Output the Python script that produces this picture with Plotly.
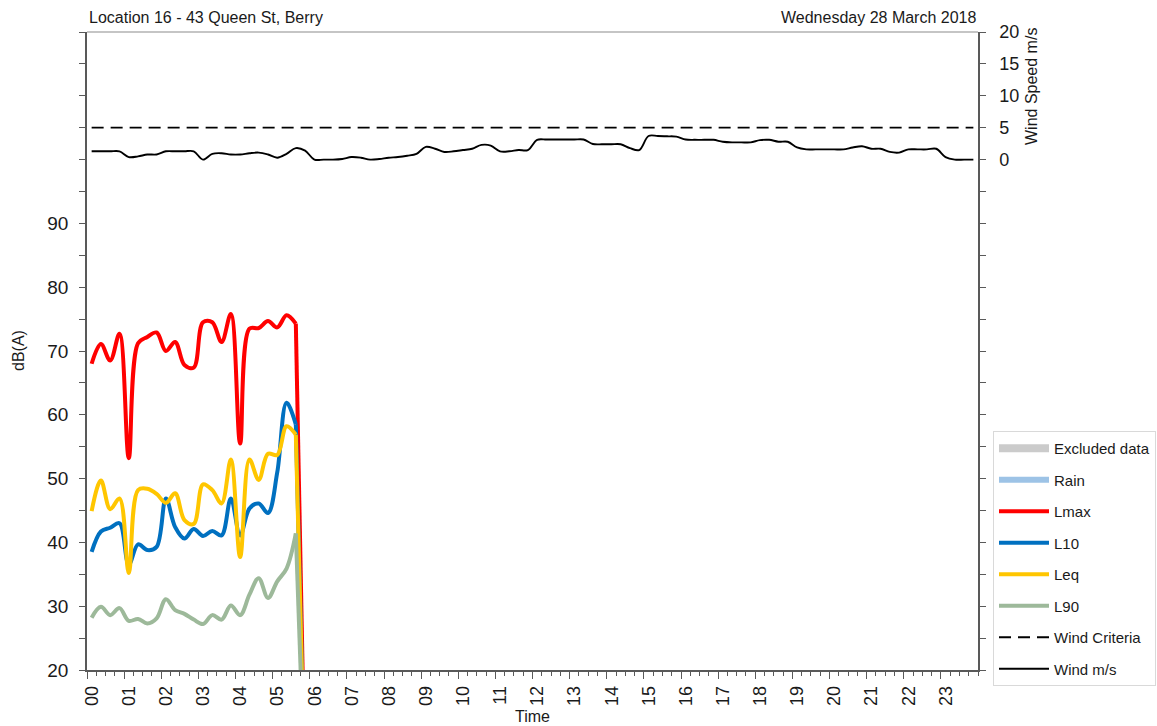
import plotly.graph_objects as go

# ---------------- data ----------------
# 15-minute slots (hours from midnight, slot centres)
noise_slots = [i / 4 for i in range(24)]
wind_slots = [i / 4 for i in range(96)]
hour_labels = [f"{h:02d}" for h in range(24)]

lmax = [68.0, 71.1, 68.5, 72.7, 53.2, 71.2, 72.2, 72.9, 70.0, 71.4, 67.8, 67.4,
        74.5, 74.5, 71.4, 75.8, 55.5, 73.5, 73.6, 74.7, 73.7, 75.6, 74.3, 0]
l10 = [38.5, 41.7, 42.3, 43.0, 36.5, 39.7, 38.8, 39.3, 46.9, 42.4, 40.6, 42.1,
       41.0, 41.8, 41.1, 46.9, 41.1, 45.3, 46.1, 44.6, 51.0, 61.9, 58.5, 0]
leq = [44.9, 49.7, 45.2, 46.9, 35.2, 48.2, 48.4, 47.6, 46.2, 47.7, 43.5, 42.9,
       49.1, 48.2, 46.1, 53.0, 37.7, 53.0, 49.8, 53.9, 53.7, 58.2, 56.9, 0]
l90 = [28.2, 29.9, 28.6, 29.7, 27.7, 28.0, 27.3, 28.1, 31.1, 29.4, 28.8, 27.9,
       27.2, 28.6, 27.9, 30.1, 28.6, 31.8, 34.4, 31.3, 33.9, 35.9, 41.4, 0]

wind = [1.3, 1.3, 1.3, 1.3, 0.4, 0.5, 0.8, 0.8, 1.3, 1.3, 1.3, 1.3,
        0.0, 0.9, 1.0, 0.8, 0.8, 1.0, 1.1, 0.8, 0.3, 0.9, 1.8, 1.4,
        0.0, 0.0, 0.0, 0.1, 0.4, 0.3, 0.0, 0.1, 0.3, 0.4, 0.6, 0.9,
        2.0, 1.7, 1.2, 1.3, 1.5, 1.7, 2.3, 2.2, 1.3, 1.3, 1.5, 1.5,
        3.1, 3.15, 3.15, 3.15, 3.15, 3.15, 2.45, 2.4, 2.4, 2.4, 1.8, 1.5,
        3.7, 3.7, 3.65, 3.6, 3.15, 3.1, 3.1, 3.1, 2.8, 2.7, 2.7, 2.7,
        3.05, 3.1, 2.8, 2.8, 1.9, 1.6, 1.6, 1.6, 1.6, 1.6, 1.9, 2.1,
        1.7, 1.7, 1.2, 1.1, 1.6, 1.6, 1.6, 1.7, 0.4, 0.0, 0.0, 0.0]
wind_criteria = [5] * 96

db_ticks = list(range(20, 121, 5))
db_labels = [str(v) if (v % 10 == 0 and v <= 90) else "" for v in db_ticks]
ws_ticks = list(range(-80, 21, 5))
ws_labels = [str(v) if v >= 0 else "" for v in ws_ticks]

# ---------------- styling ----------------
FONT = "Liberation Sans, Arial, sans-serif"
AX = "#595959"
TXT = "#1a1a1a"
W, H = 1157, 726
L, R, T, B = 87, 1157 - 978, 32, 726 - 670

fig = go.Figure()

# legend-only series
fig.add_trace(go.Scatter(x=[None], y=[None], mode="lines", name="Excluded data",
                         line=dict(color="#CBCBCB", width=8), legendgroup="a"))
fig.add_trace(go.Scatter(x=[None], y=[None], mode="lines", name="Rain",
                         line=dict(color="#9DC3E6", width=6), legendgroup="b"))

series = [("Lmax", lmax, "#FF0000"), ("L10", l10, "#0070C0"),
          ("Leq", leq, "#FFC600"), ("L90", l90, "#9DB99A")]
for k, (nm, vals, col) in enumerate(series):
    # smooth part of the record
    fig.add_trace(go.Scatter(x=noise_slots[:-1], y=vals[:-1], mode="lines", name=nm,
                             line=dict(color=col, width=4, shape="spline", smoothing=1),
                             legendgroup=f"c{k}", yaxis="y"))
    # end of record: drop out
    fig.add_trace(go.Scatter(x=noise_slots[-2:], y=vals[-2:], mode="lines", name=nm,
                             line=dict(color=col, width=4), showlegend=False,
                             legendgroup=f"c{k}", yaxis="y"))

fig.add_trace(go.Scatter(x=wind_slots, y=wind_criteria, mode="lines", name="Wind Criteria",
                         line=dict(color="black", width=1.8, dash="12px,7px"),
                         legendgroup="g", yaxis="y2"))
fig.add_trace(go.Scatter(x=wind_slots, y=wind, mode="lines", name="Wind m/s",
                         line=dict(color="black", width=1.9, shape="spline", smoothing=1),
                         legendgroup="h", yaxis="y2"))

bounds = [h - 0.125 for h in range(24)]

fig.update_layout(
    width=W, height=H,
    margin=dict(l=L, r=R, t=T, b=B, pad=0, autoexpand=False),
    paper_bgcolor="white", plot_bgcolor="white",
    font=dict(family=FONT, size=16, color=TXT),
    showlegend=True,
    legend=dict(xref="container", yref="container",
                x=993 / W, y=(H - 431) / H,
                xanchor="left", yanchor="top",
                bgcolor="white", bordercolor="#D9D9D9", borderwidth=1,
                font=dict(family=FONT, size=15, color=TXT),
                tracegroupgap=9, traceorder="grouped", itemwidth=50),
    xaxis=dict(range=[-0.125, 23.875], tickmode="array", tickvals=bounds,
               ticktext=hour_labels, tickangle=-90, ticklabelshift=5,
               ticks="outside", ticklen=7, tickcolor=AX, tickwidth=1.2,
               showline=True, linecolor=AX, linewidth=1.5,
               showgrid=False, zeroline=False,
               tickfont=dict(size=18, family=FONT, color=TXT),
               minor=dict(tickmode="linear", tick0=-0.125, dtick=0.25,
                          ticks="outside", ticklen=4, tickcolor=AX, showgrid=False)),
    yaxis=dict(range=[20, 120], tickmode="array", tickvals=db_ticks, ticktext=db_labels,
               ticks="outside", ticklen=6, tickcolor=AX, tickwidth=1.2,
               ticklabelstandoff=7,
               showline=True, linecolor=AX, linewidth=1.5,
               showgrid=False, zeroline=False,
               tickfont=dict(size=19, family=FONT, color=TXT)),
    yaxis2=dict(range=[-80, 20], overlaying="y", side="right", tickmode="array",
                tickvals=ws_ticks, ticktext=ws_labels,
                ticks="outside", ticklen=6, tickcolor=AX, tickwidth=1.2,
                ticklabelstandoff=10,
                showline=True, linecolor=AX, linewidth=1.5,
                showgrid=False, zeroline=False,
                tickfont=dict(size=18, family=FONT, color=TXT)),
    shapes=[dict(type="line", xref="paper", yref="paper", x0=0, x1=1, y0=1, y1=1,
                 line=dict(color="#8C8C8C", width=1.2))],
    annotations=[
        dict(text="Location 16 - 43 Queen St, Berry", xref="paper", yref="paper",
             x=0, y=(670 - 17) / 638, xanchor="left", yanchor="middle",
             showarrow=False, font=dict(size=16)),
        dict(text="Wednesday 28 March 2018", xref="paper", yref="paper",
             x=1, y=(670 - 17) / 638, xanchor="right", yanchor="middle",
             showarrow=False, font=dict(size=16)),
        dict(text="dB(A)", xref="paper", yref="paper", x=(18 - L) / 891, y=0.5,
             textangle=-90, xanchor="center", yanchor="middle", showarrow=False,
             font=dict(size=16)),
        dict(text="Time", xref="paper", yref="paper", x=0.5, y=(670 - 716) / 638,
             xanchor="center", yanchor="middle", showarrow=False, font=dict(size=16)),
        dict(text="Wind Speed m/s", xref="paper", yref="paper", x=(1032 - L) / 891,
             y=(670 - 87) / 638, textangle=-90, xanchor="center", yanchor="middle",
             showarrow=False, font=dict(size=16)),
    ],
)

fig.write_html("out.html", include_plotlyjs=True, config={"displayModeBar": False},
               post_script="document.body.style.margin='0';document.body.style.overflow='hidden';")
